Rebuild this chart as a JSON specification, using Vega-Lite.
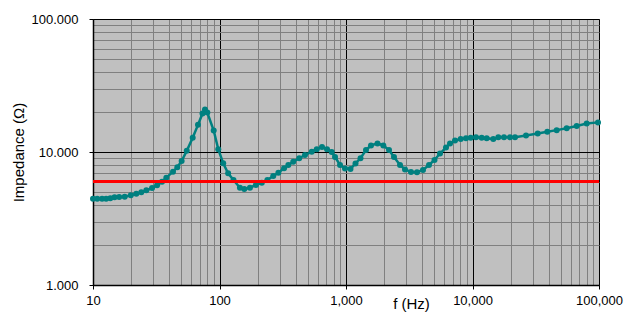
{
  "$schema": "https://vega.github.io/schema/vega-lite/v6.json",
  "width": 506,
  "height": 266,
  "autosize": {"type": "none"},
  "padding": {"left": 93, "top": 19, "right": 41, "bottom": 35},
  "background": "white",
  "config": {
    "view": {"fill": "#C0C0C0", "stroke": "#808080", "strokeWidth": 1},
    "font": "Liberation Sans"
  },
  "data": {"values": [
    {"f": 10.0, "z": 4.46}, {"f": 10.8, "z": 4.46}, {"f": 11.8, "z": 4.46}, {"f": 12.7, "z": 4.46},
    {"f": 13.7, "z": 4.49}, {"f": 14.8, "z": 4.56}, {"f": 16.1, "z": 4.59}, {"f": 17.8, "z": 4.61},
    {"f": 19.9, "z": 4.73}, {"f": 22.0, "z": 4.86}, {"f": 24.1, "z": 4.98}, {"f": 26.4, "z": 5.15},
    {"f": 29.3, "z": 5.36}, {"f": 32.1, "z": 5.62}, {"f": 35.1, "z": 5.98}, {"f": 38.0, "z": 6.41},
    {"f": 42.9, "z": 7.11}, {"f": 46.4, "z": 7.67}, {"f": 50.2, "z": 8.56}, {"f": 55.1, "z": 10.2},
    {"f": 61.4, "z": 12.8}, {"f": 67.6, "z": 16.0}, {"f": 73.4, "z": 19.5}, {"f": 76.8, "z": 20.9},
    {"f": 80.1, "z": 19.8}, {"f": 90.0, "z": 14.5}, {"f": 97.8, "z": 10.5}, {"f": 107, "z": 8.22},
    {"f": 117, "z": 6.92}, {"f": 129, "z": 6.16}, {"f": 145, "z": 5.39}, {"f": 157, "z": 5.27},
    {"f": 174, "z": 5.39}, {"f": 194, "z": 5.65}, {"f": 216, "z": 5.88}, {"f": 239, "z": 6.16},
    {"f": 266, "z": 6.6}, {"f": 292, "z": 6.99}, {"f": 324, "z": 7.54}, {"f": 350, "z": 7.99},
    {"f": 383, "z": 8.46}, {"f": 427, "z": 8.97}, {"f": 474, "z": 9.49}, {"f": 536, "z": 10.05},
    {"f": 587, "z": 10.5}, {"f": 646, "z": 10.9}, {"f": 708, "z": 10.5}, {"f": 771, "z": 10.0},
    {"f": 819, "z": 9.17}, {"f": 897, "z": 7.99}, {"f": 982, "z": 7.51}, {"f": 1085, "z": 7.45},
    {"f": 1189, "z": 8.2}, {"f": 1302, "z": 8.97}, {"f": 1439, "z": 10.35}, {"f": 1576, "z": 11.2},
    {"f": 1774, "z": 11.6}, {"f": 1972, "z": 11.2}, {"f": 2188, "z": 10.35}, {"f": 2395, "z": 9.17},
    {"f": 2673, "z": 7.99}, {"f": 2927, "z": 7.39}, {"f": 3265, "z": 7.07}, {"f": 3641, "z": 7.04},
    {"f": 4062, "z": 7.32}, {"f": 4531, "z": 7.99}, {"f": 5007, "z": 8.71}, {"f": 5534, "z": 9.74},
    {"f": 6172, "z": 10.8}, {"f": 6640, "z": 11.6}, {"f": 7274, "z": 12.2}, {"f": 8068, "z": 12.5},
    {"f": 8884, "z": 12.7}, {"f": 9678, "z": 12.8}, {"f": 10660, "z": 12.9}, {"f": 11820, "z": 12.8},
    {"f": 12950, "z": 12.7}, {"f": 14600, "z": 12.5}, {"f": 16000, "z": 12.9}, {"f": 17740, "z": 12.9},
    {"f": 19790, "z": 12.9}, {"f": 21680, "z": 12.9}, {"f": 26490, "z": 13.3}, {"f": 32770, "z": 13.8},
    {"f": 39030, "z": 14.2}, {"f": 46300, "z": 14.6}, {"f": 55550, "z": 15.1}, {"f": 66640, "z": 15.7},
    {"f": 79940, "z": 16.4}, {"f": 98170, "z": 16.7}
  ]},
  "layer": [
    {
      "mark": {"type": "line", "color": "#008080", "strokeWidth": 2.5, "clip": false,
               "point": {"filled": true, "size": 36, "color": "#008080"}},
      "encoding": {
        "x": {
          "field": "f", "type": "quantitative",
          "scale": {"type": "log", "domain": [10, 100000], "nice": false},
          "axis": {
            "values": [10,20,30,40,50,60,70,80,90,100,200,300,400,500,600,700,800,900,1000,2000,3000,4000,5000,6000,7000,8000,9000,10000,20000,30000,40000,50000,60000,70000,80000,90000,100000],
            "labelExpr": "indexof([10,100,1000,10000,100000], datum.value) >= 0 ? format(datum.value, ',') : ''",
            "gridColor": {"condition": {"test": "indexof([10,100,1000,10000,100000], datum.value) >= 0", "value": "#000000"}, "value": "#808080"},
            "tickColor": {"condition": {"test": "indexof([10,100,1000,10000,100000], datum.value) >= 0", "value": "#000000"}, "value": "transparent"},
            "gridOpacity": 1,
            "domainColor": "#000000",
            "domainWidth": 1.5,
            "tickSize": 4,
            "labelPadding": 5,
            "labelDx": -2,
            "labelFontSize": 13,
            "labelColor": "#000000",
            "labelOverlap": false,
            "labelFlush": false,
            "title": "f (Hz)",
            "titleFontSize": 15,
            "titleFontWeight": "normal",
            "titleColor": "#000000",
            "titleX": 318,
            "titleY": 18,
            "titleAlign": "center",
            "titleBaseline": "middle"
          }
        },
        "y": {
          "field": "z", "type": "quantitative",
          "scale": {"type": "log", "domain": [1, 100], "nice": false},
          "axis": {
            "values": [1,2,3,4,5,6,7,8,9,10,20,30,40,50,60,70,80,90,100],
            "labelExpr": "indexof([1,10,100], datum.value) >= 0 ? format(datum.value, '.3f') : ''",
            "gridColor": {"condition": {"test": "indexof([1,10,100], datum.value) >= 0", "value": "#000000"}, "value": "#808080"},
            "tickColor": {"condition": {"test": "indexof([1,10,100], datum.value) >= 0", "value": "#000000"}, "value": "transparent"},
            "gridOpacity": 1,
            "domainColor": "#000000",
            "domainWidth": 1.5,
            "tickSize": 4,
            "labelPadding": 11,
            "labelFontSize": 13,
            "labelColor": "#000000",
            "labelOverlap": false,
            "labelFlush": false,
            "title": "Impedance (Ω)",
            "titleFontSize": 15,
            "titleFontWeight": "normal",
            "titleColor": "#000000",
            "titleX": -75,
            "titleY": 133,
            "titleAngle": -90,
            "titleAlign": "center",
            "titleBaseline": "middle"
          }
        }
      }
    },
    {
      "mark": {"type": "rule", "color": "#FF0000", "strokeWidth": 2.5},
      "encoding": {"y": {"datum": 6, "type": "quantitative", "title": "Impedance (Ω)"}}
    }
  ]
}
